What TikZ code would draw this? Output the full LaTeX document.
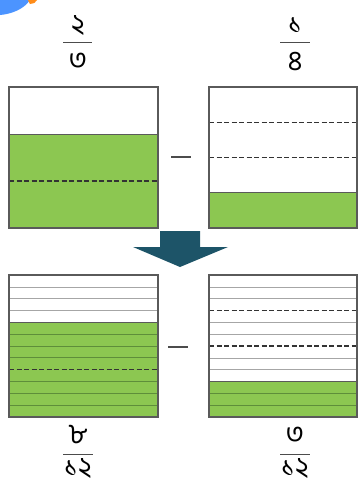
\documentclass[tikz,border=0pt]{standalone}
\usepackage{fontspec}
\newfontfamily\bnfont[Script=Bengali]{Hind Siliguri}
\definecolor{barfill}{HTML}{8CC751}
\definecolor{barline}{HTML}{5A5A5A}
\definecolor{greenline}{HTML}{5E8E3A}
\definecolor{arrowblue}{HTML}{1D5468}

\begin{document}
\begin{tikzpicture}[x=1pt,y=-1pt,
  digit/.style={font=\bnfont\fontsize{28}{30}\selectfont,inner sep=0pt},
  frame/.style={draw=barline,line width=1.5pt},
  half/.style={draw=black!80,dash pattern=on 5pt off 2.5pt,line width=1.4pt},
  thin/.style={draw=black!35,line width=0.6pt},
  thingreen/.style={draw=greenline,line width=0.7pt},
  fracbar/.style={draw=black!70,line width=0.9pt},
  minus/.style={draw=black!70,line width=2.2pt}]
\useasboundingbox (0,0) rectangle (360,491);
% corner of the previous picture
\fill[blue!60!cyan!70] (0,0) -- (30,0) .. controls (24,9) and (12,14) .. (0,15) -- cycle;
\fill[orange!90] (28,0) -- (37,0) .. controls (35,3) .. (30,4) -- cycle;
% top left: 2/3
\node[digit] (tlnum) at (78,26) {২};
\draw[fracbar] (63,42) -- (92,42);
\node[digit] (tlden) at (78,61) {৩};
\begin{scope}[shift={(9,87)}]
\fill[barfill] (0,47) rectangle (149,141);
\draw[barline,line width=1pt] (0,47) -- (149,47);
\draw[half] (0,94) -- (149,94);
\draw[frame] (0,0) rectangle (149,141);
\end{scope}
% top right: 1/4
\node[digit] (trnum) at (295,25) {১};
\draw[fracbar] (280,42) -- (310,42);
\node[digit] (trden) at (295,62) {৪};
\begin{scope}[shift={(209,87)}]
\fill[barfill] (0,105.75) rectangle (148,141);
\draw[barline,line width=1pt] (0,105.75) -- (148,105.75);
\draw[half] (0,35.25) -- (148,35.25);
\draw[half] (0,70.5) -- (148,70.5);
\draw[frame] (0,0) rectangle (148,141);
\end{scope}
\draw[minus] (171,157) -- (191,157);
% arrow
\fill[arrowblue] (160,231) -- (200,231) -- (200,247) -- (228,247) -- (180,267)
  -- (133,247) -- (160,247) -- cycle;
% bottom left: 8/12
\begin{scope}[shift={(9,275)}]
\fill[barfill] (0,47.33) rectangle (149,142);
\foreach \i in {1,...,3}
  \draw[thin] (0,{\i*142/12}) -- (149,{\i*142/12});
\foreach \i in {5,6,7,9,10,11}
  \draw[thingreen] (0,{\i*142/12}) -- (149,{\i*142/12});
\draw[barline,line width=1pt] (0,47.33) -- (149,47.33);
\draw[half] (0,94.67) -- (149,94.67);
\draw[frame] (0,0) rectangle (149,142);
\end{scope}
\node[digit] (blnum) at (78,435) {৮};
\draw[fracbar] (63,454) -- (93,454);
\node[digit] (blden) at (78,468) {১২};
% bottom right: 3/12
\begin{scope}[shift={(209,275)}]
\fill[barfill] (0,106.5) rectangle (148,142);
\foreach \i in {1,2,4,5,7,8}
  \draw[thin] (0,{\i*142/12}) -- (148,{\i*142/12});
\foreach \i in {10,11}
  \draw[thingreen] (0,{\i*142/12}) -- (148,{\i*142/12});
\draw[barline,line width=1pt] (0,106.5) -- (148,106.5);
\draw[half] (0,35.5) -- (148,35.5);
\draw[half] (0,71) -- (148,71);
\draw[frame] (0,0) rectangle (148,142);
\end{scope}
\draw[minus] (168,347) -- (188,347);
\node[digit] (brnum) at (295,435) {৩};
\draw[fracbar] (280,454) -- (310,454);
\node[digit] (brden) at (295,468) {১২};
\end{tikzpicture}
\end{document}
